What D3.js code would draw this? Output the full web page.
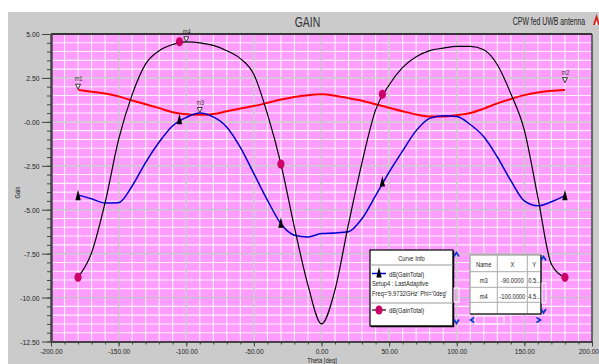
<!DOCTYPE html>
<html>
<head>
<meta charset="utf-8">
<script src="https://cdn.jsdelivr.net/npm/d3@7"></script>
<style>
body { margin: 0; background: #fff; }
svg { display: block; font-family: "Liberation Sans", Arial, sans-serif; }
</style>
</head>
<body>
<script>
const width = 599
const height = 364
const plot = {left: 51, right: 592, top: 34, bottom: 341.5}

// curve data (theta in deg, gain in dB)
const theta = [-180, -170, -160, -150, -140, -130, -120, -110, -100, -90, -80, -70, -60, -50, -40, -30, -20, -10, 0,
               10, 20, 30, 40, 50, 60, 70, 80, 90, 100, 110, 120, 130, 140, 150, 160, 170, 180]
const gainRed = [1.82, 1.72, 1.62, 1.45, 1.22, 1.0, 0.78, 0.55, 0.43, 0.4, 0.45, 0.6, 0.76, 0.9, 1.08, 1.27, 1.42, 1.52, 1.57,
                 1.48, 1.35, 1.2, 1.0, 0.8, 0.6, 0.42, 0.3, 0.3, 0.38, 0.5, 0.75, 1.05, 1.3, 1.52, 1.67, 1.77, 1.82]
const gainBlue = [-4.17, -4.38, -4.62, -4.6, -3.65, -2.3, -1.15, -0.22, 0.25, 0.5, 0.28, -0.3, -1.45, -2.95, -4.45, -5.8, -6.45, -6.55, -6.35,
                  -6.32, -6.25, -5.5, -4.2, -2.86, -1.65, -0.5, 0.2, 0.35, 0.3, -0.15, -0.85, -2.0, -3.35, -4.5, -4.78, -4.55, -4.2]
const gainBlack = [-8.85, -7.45, -4.6, -1.0, 1.55, 3.3, 4.05, 4.4, 4.55, 4.5, 4.35, 4.05, 3.6, 2.7, 0.45, -2.4, -6.0, -9.3, -11.5,
                   -9.55, -5.8, -2.3, 0.68, 2.1, 3.1, 3.7, 4.05, 4.2, 4.3, 4.3, 4.1, 3.25, 1.6, -0.48, -4.3, -8.1, -8.85]

// symbols drawn on the curves
const symbolTheta = [-180, -105, -30, 45, 180]
const symbolBlue = [-4.17, 0.15, -5.74, -3.39, -4.17]
const symbolBlack = [-8.85, 4.56, -2.4, 1.57, -8.85]

// markers m1..m4
const markerNames = ['m1', 'm2', 'm3', 'm4']
const markerTheta = [-180, 180, -90, -100]
const markerGain = [1.86, 2.23, 0.53, 4.56]

const xTicks = [-200, -150, -100, -50, 0, 50, 100, 150, 200]
const xTickLabels = ['-200.00', '-150.00', '-100.00', '-50.00', '0.00', '50.00', '100.00', '150.00', '200.00']
const yTicks = [5, 2.5, 0, -2.5, -5, -7.5, -10, -12.5]
const yTickLabels = ['5.00', '2.50', '-0.00', '-2.50', '-5.00', '-7.50', '-10.00', '-12.50']

const tableHead = ['Name', 'X', 'Y']
const tableRows = [['m3', '-90.0000', '0.5...'], ['m4', '-100.0000', '4.5...']]

const svg = d3.select('body')
        .append('svg')
        .attr('width', width)
        .attr('height', height)

// narrow text helper (the original font is condensed)
const addText = (parent, str, x, y, size, sx, anchor) => parent.append('text')
        .text(str)
        .attr('transform', `translate(${x},${y}) scale(${sx},1)`)
        .attr('font-size', size)
        .attr('text-anchor', anchor || 'start')
        .attr('fill', '#222')

// background
svg.append('rect')
        .attr('x', 8).attr('y', 12)
        .attr('width', width - 8).attr('height', height - 12)
        .attr('fill', '#cbcbcb')

const xScale = d3.scaleLinear().domain([-200, 200]).range([plot.left, plot.right])
const yScale = d3.scaleLinear().domain([-12.5, 5]).range([plot.bottom, plot.top])

svg.append('rect')
        .attr('x', plot.left).attr('y', plot.top)
        .attr('width', plot.right - plot.left).attr('height', plot.bottom - plot.top)
        .attr('fill', '#ff9cff')

// grid
const grid = svg.append('g')
grid.selectAll('.vminor')
        .data(xScale.ticks(40))
        .join('line')
        .attr('x1', d => xScale(d)).attr('x2', d => xScale(d))
        .attr('y1', plot.top).attr('y2', plot.bottom)
        .attr('stroke', '#fbf4fb').attr('stroke-width', 1.1)
grid.selectAll('.hminor')
        .data(yScale.ticks(35))
        .join('line')
        .attr('y1', d => yScale(d)).attr('y2', d => yScale(d))
        .attr('x1', plot.left).attr('x2', plot.right)
        .attr('stroke', '#fbf4fb').attr('stroke-width', 1.1)
grid.selectAll('.vmajor')
        .data(xTicks)
        .join('line')
        .attr('x1', d => xScale(d)).attr('x2', d => xScale(d))
        .attr('y1', plot.top).attr('y2', plot.bottom)
        .attr('stroke', '#c2c2c2').attr('stroke-width', 1.2)
grid.selectAll('.hmajor')
        .data(yTicks)
        .join('line')
        .attr('y1', d => yScale(d)).attr('y2', d => yScale(d))
        .attr('x1', plot.left).attr('x2', plot.right)
        .attr('stroke', '#c2c2c2').attr('stroke-width', 1.2)

// curves
const line = d3.line()
        .x((d, i) => xScale(theta[i]))
        .y(d => yScale(d))
        .curve(d3.curveMonotoneX)

svg.append('path').attr('d', line(gainRed))
        .attr('fill', 'none').attr('stroke', '#ff0000').attr('stroke-width', 2)
svg.append('path').attr('d', line(gainBlue))
        .attr('fill', 'none').attr('stroke', '#0000cc').attr('stroke-width', 1.5)
svg.append('path').attr('d', line(gainBlack))
        .attr('fill', 'none').attr('stroke', '#000').attr('stroke-width', 1.2)

const triPath = 'M0,-5.5L2.7,5L-2.7,5Z'

svg.selectAll('.tri')
        .data(symbolBlue)
        .join('path')
        .attr('d', triPath)
        .attr('transform', (d, i) => `translate(${xScale(symbolTheta[i])},${yScale(d)})`)
        .attr('fill', '#000')

svg.selectAll('.dot')
        .data(symbolBlack)
        .join('ellipse')
        .attr('cx', (d, i) => xScale(symbolTheta[i]))
        .attr('cy', d => yScale(d))
        .attr('rx', 3.6).attr('ry', 4.6)
        .attr('fill', '#cc0066')

// markers
const markers = svg.selectAll('.marker')
        .data(markerNames)
        .join('g')
        .attr('transform', (d, i) => `translate(${xScale(markerTheta[i])},${yScale(markerGain[i])})`)
markers.append('path')
        .attr('d', 'M-2.5,-5L2.5,-5L0,0Z')
        .attr('fill', '#fff').attr('stroke', '#333').attr('stroke-width', 1)
markers.each(function (d) {
    addText(d3.select(this), d, 0.5, -8, 7.5, 0.75, 'middle').attr('fill', '#333')
})

// plot frame
svg.append('line').attr('x1', plot.left).attr('x2', plot.right).attr('y1', plot.top).attr('y2', plot.top)
        .attr('stroke', '#000').attr('stroke-width', 1.5)
svg.append('line').attr('x1', plot.right).attr('x2', plot.right).attr('y1', plot.top).attr('y2', plot.bottom)
        .attr('stroke', '#444').attr('stroke-width', 1.5)

// axes
const yAxis = d3.axisLeft(yScale)
        .tickValues(yTicks)
        .tickFormat((d, i) => yTickLabels[i])
        .tickSize(9).tickSizeOuter(0).tickPadding(2)
const yMinor = d3.axisLeft(yScale)
        .tickValues(yScale.ticks(35))
        .tickFormat('')
        .tickSize(4).tickSizeOuter(0)
const xAxis = d3.axisBottom(xScale)
        .tickValues(xTicks)
        .tickFormat((d, i) => xTickLabels[i])
        .tickSize(5).tickSizeOuter(0).tickPadding(2)
const xMinor = d3.axisBottom(xScale)
        .tickValues(xScale.ticks(40))
        .tickFormat('')
        .tickSize(3).tickSizeOuter(0)

svg.append('g').attr('transform', `translate(${plot.left},0)`).call(yMinor)
const yG = svg.append('g').attr('id', 'y-axis').attr('transform', `translate(${plot.left},0)`).call(yAxis)
svg.append('g').attr('transform', `translate(0,${plot.bottom})`).call(xMinor)
const xG = svg.append('g').attr('id', 'x-axis').attr('transform', `translate(0,${plot.bottom})`).call(xAxis)

svg.selectAll('.domain').attr('stroke', '#444').attr('stroke-width', 2)
svg.selectAll('.tick line').attr('stroke', '#444')
yG.selectAll('text')
        .attr('x', null)
        .attr('transform', 'translate(-11.5,0) scale(0.85,1)')
        .attr('font-size', 8).attr('fill', '#222')
xG.selectAll('text')
        .attr('transform', 'scale(0.82,1)')
        .attr('font-size', 8).attr('fill', '#222')
// last label sits against the right edge of the window
xG.selectAll('text').filter(d => d === 200)
        .attr('text-anchor', 'end')
        .attr('x', (width - 0.5 - plot.right) / 0.82)

// titles
addText(svg, 'GAIN', 307.5, 27, 15, 0.7, 'middle').attr('fill', '#333')
addText(svg, 'CPW fed UWB antenna', 549, 25, 11.5, 0.6, 'middle')
addText(svg, 'Gain', 20, 192.5, 7.5, 0.75, 'middle')
        .attr('transform', 'translate(20,192.5) rotate(-90) scale(0.75,1)')
addText(svg, 'Theta [deg]', 322, 363, 7.5, 0.78, 'middle')

// logo
svg.append('path').attr('d', 'M593,25L596.5,14L600,25Z').attr('fill', '#d42020')
svg.append('path').attr('d', 'M595,25L596.5,20L598,25Z').attr('fill', '#fff')

// curve info legend
const legend = svg.append('g').attr('id', 'legend')
legend.append('rect')
        .attr('x', 370).attr('y', 250).attr('width', 83).attr('height', 76)
        .attr('fill', '#fff').attr('stroke', '#000').attr('stroke-width', 1.2)
legend.append('path').attr('d', 'M371,326.5H453.5V251').attr('fill', 'none').attr('stroke', '#000').attr('stroke-width', 1.5)
addText(legend, 'Curve Info', 411.5, 260.5, 8, 0.72, 'middle')
legend.append('line').attr('x1', 370).attr('x2', 453).attr('y1', 265).attr('y2', 265).attr('stroke', '#999')
legend.append('line').attr('x1', 370).attr('x2', 453).attr('y1', 303).attr('y2', 303).attr('stroke', '#999')
legend.append('line').attr('x1', 372).attr('x2', 386).attr('y1', 273.5).attr('y2', 273.5)
        .attr('stroke', '#0000cc').attr('stroke-width', 1.5)
legend.append('path').attr('d', triPath).attr('transform', 'translate(379,272.5)').attr('fill', '#000')
addText(legend, 'dB(GainTotal)', 389, 276.5, 8, 0.72)
addText(legend, 'Setup4 : LastAdaptive', 372, 286, 8, 0.72)
addText(legend, "Freq='9.9732GHz' Phi='0deg'", 372, 296, 8, 0.72)
legend.append('line').attr('x1', 372).attr('x2', 386).attr('y1', 310).attr('y2', 310)
        .attr('stroke', '#000').attr('stroke-width', 1.2)
legend.append('ellipse').attr('cx', 379).attr('cy', 310).attr('rx', 3.6).attr('ry', 4.6).attr('fill', '#cc0066')
addText(legend, 'dB(GainTotal)', 389, 313, 8, 0.72)

// scroll arrows
const arrow = (x, y, dir) => {
    const paths = {
        up: `M${x - 2.5},${y + 2}L${x},${y - 2}L${x + 2.5},${y + 2}`,
        down: `M${x - 2.5},${y - 2}L${x},${y + 2}L${x + 2.5},${y - 2}`,
        left: `M${x + 2},${y - 2.5}L${x - 2},${y}L${x + 2},${y + 2.5}`,
        right: `M${x - 2},${y - 2.5}L${x + 2},${y}L${x - 2},${y + 2.5}`
    }
    svg.append('path').attr('d', paths[dir])
            .attr('fill', 'none').attr('stroke', '#0033cc').attr('stroke-width', 1.6)
}
arrow(456.5, 254.5, 'up')
arrow(456.5, 321.5, 'down')
svg.append('rect').attr('x', 454).attr('y', 288).attr('width', 5).attr('height', 14)
        .attr('fill', 'none').attr('stroke', '#fff').attr('stroke-width', 1)

// marker table
const colX = [470, 497.3, 527.3, 541]
const rowY = [255, 271.7, 287.3, 302.3, 314]
const table = svg.append('g')
table.append('rect')
        .attr('x', colX[0]).attr('y', rowY[0])
        .attr('width', colX[3] - colX[0]).attr('height', rowY[4] - rowY[0])
        .attr('fill', '#fff').attr('stroke', '#888')
table.selectAll('.rowline')
        .data(rowY.slice(1, 4))
        .join('line')
        .attr('x1', colX[0]).attr('x2', colX[3])
        .attr('y1', d => d).attr('y2', d => d)
        .attr('stroke', '#aaa')
table.selectAll('.colline')
        .data(colX.slice(1, 3))
        .join('line')
        .attr('y1', rowY[0]).attr('y2', rowY[4])
        .attr('x1', d => d).attr('x2', d => d)
        .attr('stroke', '#aaa')
table.append('path').attr('d', `M${colX[0]},${rowY[4]}H${colX[3]}V${rowY[0]}`)
        .attr('fill', 'none').attr('stroke', '#000').attr('stroke-width', 1.2)
tableHead.forEach((h, j) => {
    addText(table, h, (colX[j] + colX[j + 1]) / 2, 266.5, 8, 0.72, 'middle')
})
table.append('clipPath').attr('id', 'ycol')
        .append('rect').attr('x', colX[2]).attr('y', rowY[0]).attr('width', colX[3] - colX[2]).attr('height', rowY[4] - rowY[0])
tableRows.forEach((row, r) => {
    const yb = rowY[r + 1] + 11.5
    addText(table, row[0], (colX[0] + colX[1]) / 2, yb, 8, 0.72, 'middle')
    addText(table, row[1], (colX[1] + colX[2]) / 2, yb, 8, 0.72, 'middle')
    table.append('g').attr('clip-path', 'url(#ycol)').call(g => addText(g, row[2], colX[2] + 1, yb, 8, 0.72))
})
arrow(543.5, 258.5, 'up')
arrow(543.5, 311, 'down')
arrow(472.5, 320, 'left')
arrow(538.5, 320, 'right')
svg.append('rect').attr('x', 475).attr('y', 316).attr('width', 29).attr('height', 8)
        .attr('fill', 'none').attr('stroke', '#fff').attr('stroke-width', 1)
svg.append('rect').attr('x', 542).attr('y', 283).attr('width', 4).attr('height', 20)
        .attr('fill', 'none').attr('stroke', '#fff').attr('stroke-width', 1)
</script>
</body>
</html>
